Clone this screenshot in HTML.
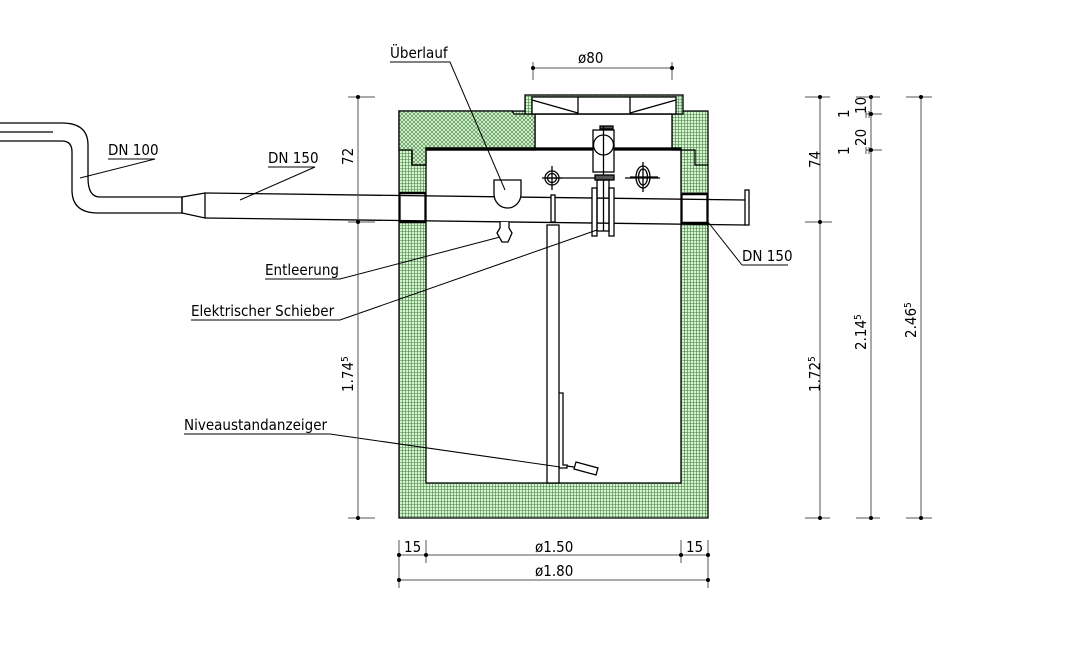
<!DOCTYPE html>
<html><head><meta charset="utf-8"><style>
html,body{margin:0;padding:0;background:#fff;}
svg{display:block;}
text{font-family:"DejaVu Sans Condensed","Liberation Sans Narrow","Liberation Sans",sans-serif;font-size:15px;fill:#000;}
</style></head><body>
<svg width="1082" height="660" viewBox="0 0 1082 660" xmlns="http://www.w3.org/2000/svg">
<defs>
<pattern id="grid" width="3" height="3" patternUnits="userSpaceOnUse">
<rect width="3" height="3" fill="#d2f7cc"/>
<path d="M0 0.5H3M0.5 0V3" stroke="#4a7a4a" stroke-width="0.6"/>
</pattern>
<pattern id="hatch" width="4" height="4" patternUnits="userSpaceOnUse">
<rect width="4" height="4" fill="#d2f7cc"/>
<path d="M0 0L4 4M4 0L0 4" stroke="#4a7a4a" stroke-width="0.6"/>
</pattern>
</defs>
<g stroke="#000" stroke-width="1.3" fill="none">
<path d="M399 111H535V150H426V483H681V150H672V111H708V518H399Z" fill="url(#grid)"/>
<path d="M399 111H512L514 114H535V148H426V165H412V150H399Z" fill="url(#hatch)"/>
<rect x="426" y="148" width="255" height="2" fill="#000"/>
<path d="M412 150V165H426M681 150H695V165H708" />
<rect x="525" y="95" width="158" height="19" fill="url(#grid)"/>
<rect x="532" y="97" width="144" height="17" fill="#fff"/>
<path d="M532 100L578 113M676 100L630 113M578 97V114M630 97V114"/>
<line x1="535" y1="114" x2="672" y2="114"/>
<rect x="400" y="193" width="25" height="29" fill="#fff"/>
<rect x="682" y="194" width="25" height="29" fill="#fff"/>
<path d="M400 193H426M400 222H426M682 194H708M682 223H708" stroke-width="2.5"/>
<path d="M205 193L745 200M205 218L745 225" />
<path d="M0 123H62Q88 123 88 145V178Q88 197 100 197H182V213H98Q72 213 72 190V152Q72 141 62 141H0M0 132H53"/>
<path d="M182 197L205 193V218L182 213Z"/>
<rect x="745" y="190" width="4" height="35" fill="#fff"/>
<path d="M494 180H521V194A13.5 14 0 0 1 494 194Z" fill="#fff"/>
<path d="M500 222V228L497 233L502 242H508L512 233L509 228V222" fill="#fff"/>
<rect x="551" y="195" width="4" height="27" fill="#fff"/>
<rect x="547" y="225" width="12" height="258" fill="#fff"/>
<path d="M559 393H563V465H567V468H559"/>
<path d="M567 466L574 467M576 462L598 468L596 475L574 469Z" fill="#fff"/>
<rect x="593" y="130" width="21" height="42" fill="#fff"/>
<circle cx="603.5" cy="145" r="10"/>
<rect x="600" y="126" width="13" height="3" fill="#555"/>
<line x1="603.5" y1="126" x2="603.5" y2="231"/>
<rect x="595" y="175" width="19" height="5" fill="#555"/>
<rect x="592" y="188" width="5" height="48" fill="#fff"/>
<rect x="609" y="188" width="5" height="48" fill="#fff"/>
<rect x="597" y="180" width="12" height="51" fill="none"/>
<line x1="545" y1="178" x2="595" y2="178"/>
<line x1="625" y1="178" x2="660" y2="178"/>
<circle cx="552" cy="178" r="7"/><circle cx="552" cy="178" r="4.5"/>
<path d="M542 178H562M552 166V190"/>
<ellipse cx="643" cy="177" rx="7" ry="11"/><ellipse cx="643" cy="177" rx="4.5" ry="8"/>
<path d="M630 177H658M643 162V192"/>
</g>
<g stroke="#000" stroke-width="1" fill="none">
<path d="M390 62H450L505 190"/>
<path d="M108 159H155L80 178"/>
<path d="M268 167H315L240 200"/>
<path d="M265 279H340L500 237"/>
<path d="M191 320H340L597 230"/>
<path d="M184 434H330L560 467"/>
<path d="M742 265H788M742 265L708 222"/>
</g>
<g stroke="#555" stroke-width="1" fill="none">
<path d="M358 97V518M348 97H375M348 222H375M348 518H375"/>
<path d="M820 97V518M805 97H830M805 222H832M805 518H830"/>
<path d="M871 97V518M856 97H880M856 518H880M866 114H882M866 150H882M866 111V118M869 111V118M866 147V154M869 147V154"/>
<path d="M921 97V518M906 97H932M906 518H932"/>
<path d="M533 68H672M533 62V80M672 62V80"/>
<path d="M399 555H708M399 540V588M426 540V563M681 540V563M708 540V588M399 580H708"/>
</g>
<g fill="#000">
<circle cx="358" cy="97" r="2"/><circle cx="358" cy="222" r="2"/><circle cx="358" cy="518" r="2"/>
<circle cx="820" cy="97" r="2"/><circle cx="820" cy="222" r="2"/><circle cx="820" cy="518" r="2"/>
<circle cx="871" cy="97" r="2"/><circle cx="871" cy="114" r="2"/><circle cx="871" cy="150" r="2"/><circle cx="871" cy="518" r="2"/>
<circle cx="921" cy="97" r="2"/><circle cx="921" cy="518" r="2"/>
<circle cx="533" cy="68" r="2"/><circle cx="672" cy="68" r="2"/>
<circle cx="399" cy="555" r="2"/><circle cx="426" cy="555" r="2"/><circle cx="681" cy="555" r="2"/><circle cx="708" cy="555" r="2"/>
<circle cx="399" cy="580" r="2"/><circle cx="708" cy="580" r="2"/>
</g>
<text x="390" y="58">Überlauf</text>
<text x="578" y="63">ø80</text>
<text x="108" y="155">DN 100</text>
<text x="268" y="163">DN 150</text>
<text x="265" y="275">Entleerung</text>
<text x="191" y="316">Elektrischer Schieber</text>
<text x="184" y="430">Niveaustandanzeiger</text>
<text x="742" y="261">DN 150</text>
<text x="404" y="552">15</text>
<text x="686" y="552">15</text>
<text x="535" y="552">ø1.50</text>
<text x="535" y="576">ø1.80</text>
<text transform="translate(353,165) rotate(-90)">72</text>
<text transform="translate(353,392) rotate(-90)">1.74<tspan dy="-5" font-size="10">5</tspan></text>
<text transform="translate(820,168) rotate(-90)">74</text>
<text transform="translate(820,392) rotate(-90)">1.72<tspan dy="-5" font-size="10">5</tspan></text>
<text transform="translate(866,350) rotate(-90)">2.14<tspan dy="-5" font-size="10">5</tspan></text>
<text transform="translate(916,338) rotate(-90)">2.46<tspan dy="-5" font-size="10">5</tspan></text>
<text transform="translate(866,114) rotate(-90)">10</text>
<text transform="translate(866,146) rotate(-90)">20</text>
<text transform="translate(849,118) rotate(-90)" font-size="12">1</text>
<text transform="translate(849,155) rotate(-90)" font-size="12">1</text>
</svg>
</body></html>
